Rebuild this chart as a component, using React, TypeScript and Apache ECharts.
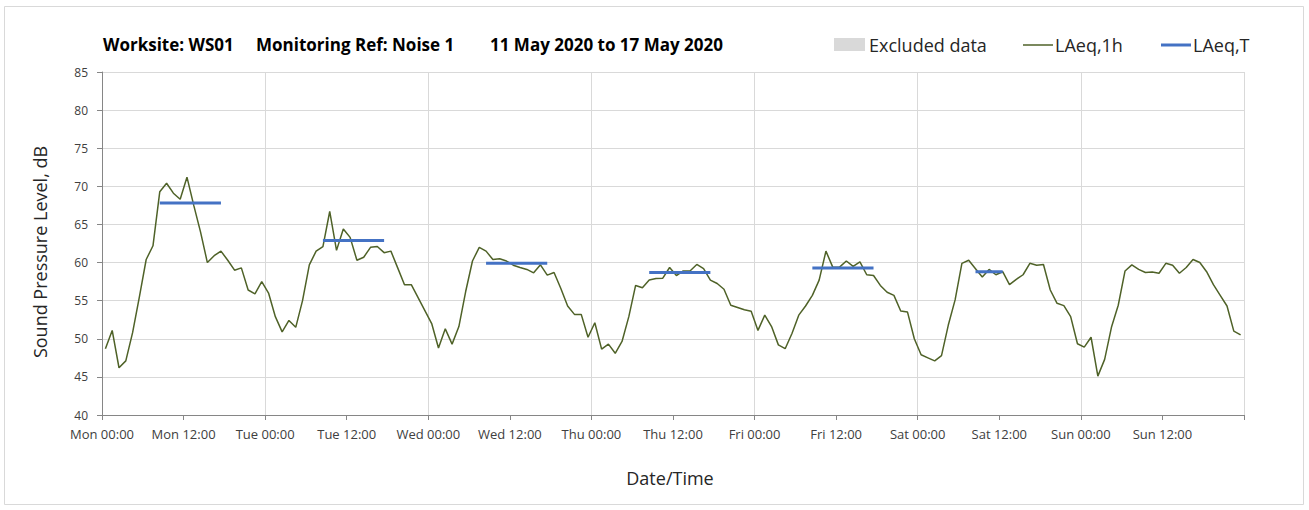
import React, { useEffect, useRef } from "react";
import * as echarts from "echarts";

// Hourly LAeq,1h values (dB), one array per day, hour 00 .. 23
const monday = [48.7, 51.1, 46.2, 47.1, 50.8, 55.5, 60.4, 62.2, 69.3, 70.4, 69.1, 68.3, 71.2, 67.5, 64.0, 60.0, 60.9, 61.5, 60.3, 59.0, 59.3, 56.4, 55.9, 57.5];
const tuesday = [56.0, 52.9, 50.9, 52.4, 51.5, 55.0, 59.7, 61.5, 62.1, 66.7, 61.6, 64.4, 63.3, 60.3, 60.7, 62.0, 62.1, 61.3, 61.5, 59.3, 57.1, 57.1, 55.4, 53.7];
const wednesday = [52.0, 48.8, 51.3, 49.3, 51.6, 56.2, 60.2, 62.0, 61.5, 60.4, 60.5, 60.2, 59.65, 59.35, 59.1, 58.65, 59.7, 58.35, 58.7, 56.6, 54.3, 53.2, 53.2, 50.2];
const thursday = [52.1, 48.65, 49.3, 48.1, 49.65, 52.9, 57.0, 56.7, 57.7, 57.9, 57.95, 59.35, 58.3, 58.9, 58.9, 59.75, 59.2, 57.7, 57.25, 56.5, 54.4, 54.1, 53.8, 53.6];
const friday = [51.1, 53.1, 51.6, 49.2, 48.7, 50.7, 53.1, 54.3, 55.7, 57.7, 61.5, 59.4, 59.4, 60.2, 59.5, 60.1, 58.4, 58.3, 57.0, 56.1, 55.7, 53.65, 53.5, 50.0];
const saturday = [47.9, 47.5, 47.1, 47.8, 51.8, 55.1, 59.9, 60.3, 59.2, 58.1, 59.1, 58.4, 58.8, 57.1, 57.8, 58.4, 59.9, 59.65, 59.75, 56.4, 54.65, 54.35, 52.9, 49.35];
const sunday = [48.9, 50.2, 45.1, 47.3, 51.5, 54.4, 58.9, 59.7, 59.1, 58.7, 58.75, 58.6, 59.9, 59.65, 58.6, 59.35, 60.4, 60.0, 58.8, 57.1, 55.7, 54.3, 51.0, 50.5];

const dayNames = ["Mon", "Tue", "Wed", "Thu", "Fri", "Sat", "Sun"];

// LAeq,T over working periods (hours from Mon 00:00)
const laeqTValues = [67.8, 62.9, 59.9, 58.7, 59.3, 58.8];
const laeqTStart = [8.5, 32.5, 56.5, 80.5, 104.5, 128.5];
const laeqTEnd = [17.5, 41.5, 65.5, 89.5, 113.5, 132.5];

const titleParts = ["Worksite: WS01", "Monitoring Ref: Noise 1", "11 May 2020 to 17 May 2020"];

const FONT = "'Open Sans', 'DejaVu Sans', sans-serif";
const GREEN = "#4F6228";
const BLUE = "#4472C4";
const GRID = "#d9d9d9";
const AXIS = "#868686";
const TEXT = "#404040";

export default function App() {
  const ref = useRef<HTMLDivElement>(null);
  useEffect(() => {
    const chart = echarts.init(ref.current!, null, { renderer: "svg" });
    const hourly = [...monday, ...tuesday, ...wednesday, ...thursday, ...friday, ...saturday, ...sunday];
    const lineData = hourly.map((v, i) => [i + 0.5, v]);
    const tSeries = laeqTValues.map((v, i) => ({
      type: "line",
      name: "LAeq,T",
      data: [
        [laeqTStart[i], v],
        [laeqTEnd[i], v],
      ],
      symbol: "none",
      silent: true,
      z: 4,
      lineStyle: { color: BLUE, width: 3 },
    }));
    const titleX = [103, 256, 490];
    chart.setOption({
      animation: false,
      textStyle: { fontFamily: FONT },
      grid: { left: 102, top: 72, width: 1142, height: 343 },
      xAxis: [
        {
          type: "value",
          min: 0,
          max: 168,
          interval: 12,
          axisLine: { show: true, lineStyle: { color: AXIS, width: 1 } },
          axisTick: { show: true, length: 5, lineStyle: { color: AXIS } },
          splitLine: { show: false },
          axisLabel: {
            color: TEXT,
            fontSize: 13,
            fontFamily: FONT,
            margin: 12,
            formatter: (v: number) => {
              if (v >= 168) return "";
              const d = Math.floor(v / 24);
              return dayNames[d] + (v % 24 === 0 ? " 00:00" : " 12:00");
            },
          },
        },
        {
          type: "value",
          min: 0,
          max: 168,
          interval: 24,
          position: "top",
          axisLine: { show: false },
          axisTick: { show: false },
          axisLabel: { show: false },
          splitLine: { show: true, lineStyle: { color: GRID, width: 1 } },
        },
      ],
      yAxis: {
        type: "value",
        min: 40,
        max: 85,
        interval: 5,
        axisLine: { show: true, lineStyle: { color: AXIS, width: 1 } },
        axisTick: { show: true, length: 5, lineStyle: { color: AXIS } },
        axisLabel: { color: TEXT, fontSize: 12, fontFamily: FONT, margin: 14 },
        splitLine: { show: true, lineStyle: { color: GRID, width: 1 } },
      },
      series: [
        {
          type: "line",
          name: "LAeq,1h",
          data: lineData,
          symbol: "none",
          silent: true,
          z: 3,
          lineStyle: { color: GREEN, width: 1.5 },
        },
        ...tSeries,
      ],
      graphic: [
        {
          type: "rect",
          shape: { x: 4.5, y: 6.5, width: 1299, height: 498 },
          style: { fill: "none", stroke: GRID, lineWidth: 1 },
          silent: true,
        },
        ...titleParts.map((t, i) => ({
          type: "text",
          x: titleX[i],
          y: 44,
          style: {
            text: t,
            fill: "#000000",
            fontFamily: FONT,
            fontSize: 17,
            fontWeight: "bold",
            textAlign: "left",
            textVerticalAlign: "middle",
          },
        })),
        {
          type: "rect",
          shape: { x: 834, y: 38, width: 31, height: 13 },
          style: { fill: GRID },
        },
        {
          type: "text",
          x: 869,
          y: 45,
          style: { text: "Excluded data", fill: "#262626", fontFamily: FONT, fontSize: 18, textAlign: "left", textVerticalAlign: "middle" },
        },
        {
          type: "line",
          shape: { x1: 1023, y1: 45, x2: 1053, y2: 45 },
          style: { stroke: GREEN, lineWidth: 1.5 },
        },
        {
          type: "text",
          x: 1055,
          y: 45,
          style: { text: "LAeq,1h", fill: "#262626", fontFamily: FONT, fontSize: 18, textAlign: "left", textVerticalAlign: "middle" },
        },
        {
          type: "line",
          shape: { x1: 1161, y1: 45, x2: 1191, y2: 45 },
          style: { stroke: BLUE, lineWidth: 3 },
        },
        {
          type: "text",
          x: 1193,
          y: 45,
          style: { text: "LAeq,T", fill: "#262626", fontFamily: FONT, fontSize: 18, textAlign: "left", textVerticalAlign: "middle" },
        },
        {
          type: "text",
          x: 40,
          y: 252,
          rotation: Math.PI / 2,
          style: { text: "Sound Pressure Level, dB", fill: "#262626", fontFamily: FONT, fontSize: 18, textAlign: "center", textVerticalAlign: "middle" },
        },
        {
          type: "text",
          x: 670,
          y: 478,
          style: { text: "Date/Time", fill: "#262626", fontFamily: FONT, fontSize: 18, textAlign: "center", textVerticalAlign: "middle" },
        },
      ],
    });
    return () => chart.dispose();
  }, []);
  return <div ref={ref} style={{ position: "absolute", left: 0, top: 0, width: 1309, height: 510 }} />;
}
